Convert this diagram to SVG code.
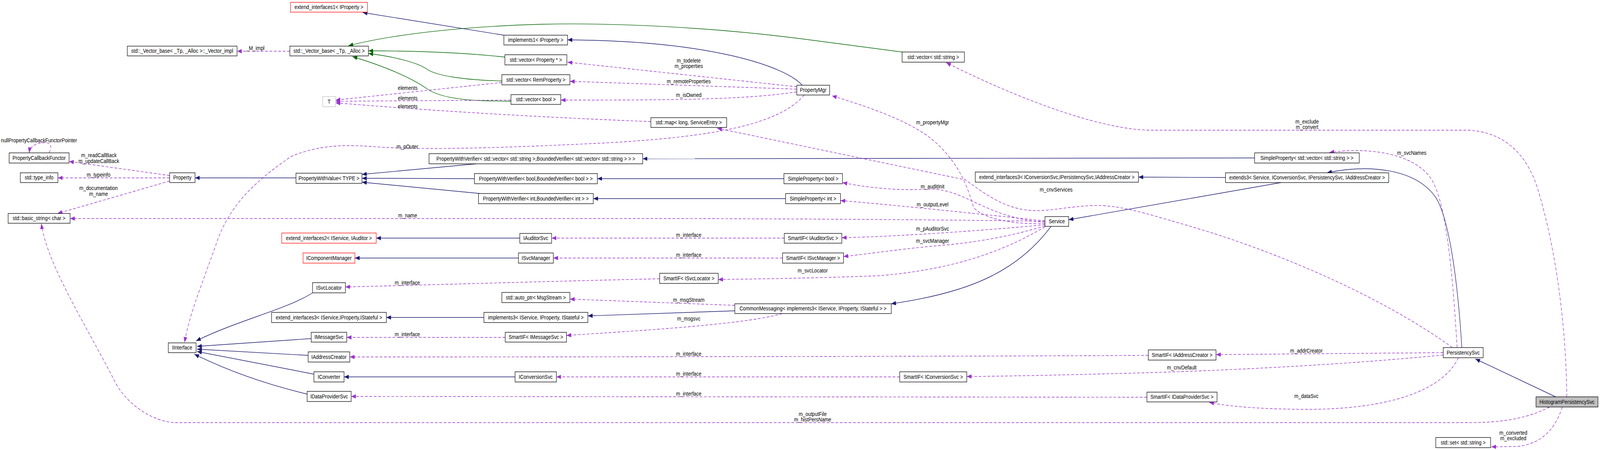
<svg xmlns="http://www.w3.org/2000/svg" width="4725" height="1151" viewBox="0 0 4725 1151" preserveAspectRatio="none">
<style>
svg{width:100vw;height:100vh;display:block}
text{font-family:"Liberation Sans",Arial,sans-serif;font-size:14.3px;fill:#000;text-anchor:middle}
.n rect{fill:#fff;stroke:#000;stroke-width:1.3}
.n.red rect{stroke:#ff0000}
.n.gray rect{stroke:#bfbfbf}
.n.cur rect{fill:#bfbfbf;stroke:#000}
.e{fill:none;stroke-width:1.4}
.inh{stroke:#191970;marker-end:url(#an)}
.tpl{stroke:#006400;marker-end:url(#ag)}
.use{stroke:#9a32cd;stroke-dasharray:8,5;marker-end:url(#ap)}
</style>
<defs>
<marker id="an" viewBox="0 0 14 11" refX="14" refY="5.5" markerWidth="14" markerHeight="11" markerUnits="userSpaceOnUse" orient="auto"><path d="M0,0 L14,5.5 L0,11 z" fill="#191970"/></marker>
<marker id="ag" viewBox="0 0 14 11" refX="14" refY="5.5" markerWidth="14" markerHeight="11" markerUnits="userSpaceOnUse" orient="auto"><path d="M0,0 L14,5.5 L0,11 z" fill="#006400"/></marker>
<marker id="ap" viewBox="0 0 14 11" refX="14" refY="5.5" markerWidth="14" markerHeight="11" markerUnits="userSpaceOnUse" orient="auto"><path d="M0,0 L14,5.5 L0,11 z" fill="#9a32cd"/></marker>
</defs>
<rect width="4725" height="1151" fill="#fff"/>
<g id="connectors">
<path class="e inh" d="M1488,90 L1071,32"/>
<path class="e tpl" d="M2664,133 L2400,103 C2100,68 1800,58 1600,62 C1350,68 1150,90 1029,117"/>
<path class="e tpl" d="M1491,146 C1350,133 1200,130 1088,130"/>
<path class="e tpl" d="M1482,207 C1380,205 1290,195 1261,177 C1230,158 1150,143 1088,137"/>
<path class="e tpl" d="M1509,259 L1440,258 C1350,256 1290,245 1261,227 C1200,190 1100,160 1041,145"/>
<path class="e use" d="M856,131 L700,131"/>
<path class="e inh" d="M2369,218 C2320,170 2100,104 1676,102"/>
<path class="e use" d="M2353,222 L1676,159"/>
<path class="e use" d="M2353,228 L1683,208"/>
<path class="e use" d="M2353,235 C2200,255 2000,256 1656,256"/>
<path class="e use" d="M1482,211 L991,256"/>
<path class="e use" d="M1509,256 L991,259"/>
<path class="e use" d="M1922,311 C1600,300 1300,285 991,263"/>
<path class="e use" d="M3086,572 C3000,575 2900,560 2875,530 C2855,470 2830,420 2770,370 C2700,310 2550,270 2457,245"/>
<path class="e use" d="M3086,566 C2800,562 2400,560 2000,559 L207,559"/>
<path class="e use" d="M3086,569 C2900,555 2850,480 2740,484 C2650,488 2560,480 2488,467"/>
<path class="e use" d="M3086,565 C2900,548 2650,525 2482,513"/>
<path class="e use" d="M3086,575 C2900,590 2650,605 2486,608"/>
<path class="e use" d="M3086,578 C3000,600 2900,620 2750,630 C2650,638 2560,650 2491,656"/>
<path class="e use" d="M3086,580 C2950,650 2800,690 2600,705 C2400,712 2250,713 2121,715"/>
<path class="e inh" d="M3783,467 L3156,562"/>
<path class="e inh" d="M3619,454 L3362,453"/>
<path class="e inh" d="M3104,579 C3000,700 2850,750 2632,777"/>
<path class="e inh" d="M2170,795 L1736,808"/>
<path class="e inh" d="M1429,812 L1141,812"/>
<path class="e use" d="M2170,781 L1683,765"/>
<path class="e use" d="M2310,802 C2200,830 1900,845 1673,858"/>
<path class="e use" d="M1492,863 L1024,863"/>
<path class="e inh" d="M919,866 L582,886"/>
<path class="e inh" d="M910,909 L582,893"/>
<path class="e inh" d="M927,957 L582,899"/>
<path class="e inh" d="M907,1008 C820,990 700,960 574,906"/>
<path class="e inh" d="M923,749 C850,790 700,820 579,872"/>
<path class="e use" d="M1948,713 C1600,720 1300,728 1020,734"/>
<path class="e use" d="M2316,609 L1629,609"/>
<path class="e inh" d="M1535,609 L1111,609"/>
<path class="e use" d="M2311,660 L1634,660"/>
<path class="e inh" d="M1531,660 L1048,660"/>
<path class="e inh" d="M3705,404 L1898,406"/>
<path class="e inh" d="M2315,457 L1764,457"/>
<path class="e inh" d="M2320,508 L1752,508"/>
<path class="e inh" d="M1407,419 L1069,446"/>
<path class="e inh" d="M1401,457 L1069,456"/>
<path class="e inh" d="M1418,495 L1069,466"/>
<path class="e inh" d="M874,455 L576,455"/>
<path class="e use" d="M501,449 L204,413"/>
<path class="e use" d="M501,455 L171,455"/>
<path class="e use" d="M501,463 L170,546"/>
<path class="e use" d="M145,391 C160,365 140,363 118,366 C100,369 88,378 86,391"/>
<path class="e use" d="M2375,243 C2300,320 2100,350 1800,365 C1500,378 1250,385 1100,375 C1000,368 930,375 860,400 C760,460 680,520 640,620 C600,720 560,800 545,876"/>
<path class="e use" d="M4576,1041 C4500,1075 4420,1081 4330,1081 L520,1081 C470,1081 390,1050 344,984 C260,840 140,680 122,572"/>
<path class="e use" d="M4627,1015 C4625,850 4600,650 4540,480 C4510,400 4450,340 4340,333 L3400,333 C3250,333 3000,250 2794,160"/>
<path class="e use" d="M4303,889 C4290,700 4270,500 4220,450 C4170,395 4050,375 3926,390"/>
<path class="e inh" d="M4317,889 C4305,720 4280,560 4240,505 C4180,430 4040,420 3919,442"/>
<path class="e use" d="M4289,889 C4100,770 3800,650 3500,575 C3380,545 3300,522 3220,526 C3140,530 3090,542 3040,538 C2960,532 2900,490 2851,460 L2118,328"/>
<path class="e use" d="M4262,902 L3591,907"/>
<path class="e use" d="M4262,908 C4000,930 3700,945 3400,953 C3200,958 3000,962 2855,963"/>
<path class="e use" d="M4307,915 C4260,1000 4100,1048 3850,1047 C3700,1046 3620,1038 3571,1029"/>
<path class="e inh" d="M4594,1015 L4357,918"/>
<path class="e use" d="M4614,1041 C4595,1090 4560,1135 4480,1142 L4404,1143"/>
<path class="e use" d="M3391,909 C3000,911 2000,913 1033,913"/>
<path class="e use" d="M2657,964 L1643,964"/>
<path class="e inh" d="M1521,964 L1016,964"/>
<path class="e use" d="M3387,1016 L1037,1014"/>
<g id="edge-labels">
<text x="754" y="128">_M_impl</text>
<text x="2034" y="160">m_todelete</text>
<text x="2034" y="174">m_properties</text>
<text x="2034" y="213">m_remoteProperties</text>
<text x="2034" y="248">m_isOwned</text>
<text x="1204" y="230">elements</text>
<text x="1204" y="256">elements</text>
<text x="1204" y="277">elements</text>
<text x="1203" y="380">m_pOuter</text>
<text x="115" y="364">nullPropertyCallbackFunctorPointer</text>
<text x="292" y="402">m_readCallBack</text>
<text x="292" y="417">m_updateCallBack</text>
<text x="291" y="452">m_typeinfo</text>
<text x="291" y="486">m_documentation</text>
<text x="291" y="501">m_name</text>
<text x="1204" y="556">m_name</text>
<text x="2754" y="318">m_propertyMgr</text>
<text x="2754" y="482">m_auditInit</text>
<text x="2754" y="528">m_outputLevel</text>
<text x="2754" y="590">m_pAuditorSvc</text>
<text x="2754" y="621">m_svcManager</text>
<text x="2400" y="697">m_svcLocator</text>
<text x="3119" y="490">m_cnvServices</text>
<text x="4169" y="396">m_svcNames</text>
<text x="3860" y="316">m_exclude</text>
<text x="3860" y="330">m_convert</text>
<text x="2034" y="606">m_interface</text>
<text x="2034" y="657">m_interface</text>
<text x="1203" y="728">m_interface</text>
<text x="2034" y="772">m_msgStream</text>
<text x="2034" y="820">m_msgsvc</text>
<text x="1203" y="860">m_interface</text>
<text x="2034" y="910">m_interface</text>
<text x="3858" y="902">m_addrCreator</text>
<text x="3490" y="945">m_cnvDefault</text>
<text x="2034" y="961">m_interface</text>
<text x="2034" y="1012">m_interface</text>
<text x="3858" y="1018">m_dataSvc</text>
<text x="2400" y="1064">m_outputFile</text>
<text x="2400" y="1078">m_histPersName</text>
<text x="4469" y="1112">m_converted</text>
<text x="4469" y="1126">m_excluded</text>
</g>
</g>
<g id="n1" class="n red"><rect x="858" y="6" width="227" height="25"/><text x="971.5" y="23.5">extend_interfaces1&lt; IProperty &gt;</text></g>
<g id="n2" class="n"><rect x="376" y="118" width="324" height="25"/><text x="538" y="135.5">std::_Vector_base&lt; _Tp, _Alloc &gt;::_Vector_impl</text></g>
<g id="n3" class="n"><rect x="856" y="118" width="232" height="25"/><text x="972" y="135.5">std::_Vector_base&lt; _Tp, _Alloc &gt;</text></g>
<g id="n4" class="n gray"><rect x="953" y="247" width="38" height="26"/><text x="972" y="265">T</text></g>
<g id="n5" class="n"><rect x="1488" y="90" width="188" height="25"/><text x="1582" y="107.5">implements1&lt; IProperty &gt;</text></g>
<g id="n6" class="n"><rect x="1491" y="140" width="183" height="26"/><text x="1582.5" y="158">std::vector&lt; Property * &gt;</text></g>
<g id="n7" class="n"><rect x="1482" y="191" width="201" height="26"/><text x="1582.5" y="209">std::vector&lt; RemProperty &gt;</text></g>
<g id="n8" class="n"><rect x="1509" y="242" width="147" height="25"/><text x="1582.5" y="259.5">std::vector&lt; bool &gt;</text></g>
<g id="n9" class="n"><rect x="1922" y="301" width="224" height="25"/><text x="2034" y="318.5">std::map&lt; long, ServiceEntry &gt;</text></g>
<g id="n10" class="n"><rect x="2353" y="218" width="97" height="25"/><text x="2401.5" y="235.5">PropertyMgr</text></g>
<g id="n11" class="n"><rect x="2664" y="133" width="184" height="26"/><text x="2756" y="151">std::vector&lt; std::string &gt;</text></g>
<g id="n12" class="n"><rect x="27" y="391" width="177" height="26"/><text x="115.5" y="409">PropertyCallbackFunctor</text></g>
<g id="n13" class="n"><rect x="60" y="442" width="111" height="25"/><text x="115.5" y="459.5">std::type_info</text></g>
<g id="n14" class="n"><rect x="501" y="442" width="75" height="25"/><text x="538.5" y="459.5">Property</text></g>
<g id="n15" class="n"><rect x="24" y="546" width="183" height="25"/><text x="115.5" y="563.5">std::basic_string&lt; char &gt;</text></g>
<g id="n16" class="n"><rect x="874" y="443" width="195" height="26"/><text x="971.5" y="461">PropertyWithValue&lt; TYPE &gt;</text></g>
<g id="n17" class="n"><rect x="1267" y="393" width="631" height="26"/><text x="1582.5" y="411">PropertyWithVerifier&lt; std::vector&lt; std::string &gt;,BoundedVerifier&lt; std::vector&lt; std::string &gt; &gt; &gt;</text></g>
<g id="n18" class="n"><rect x="1401" y="444" width="363" height="26"/><text x="1582.5" y="462">PropertyWithVerifier&lt; bool,BoundedVerifier&lt; bool &gt; &gt;</text></g>
<g id="n19" class="n"><rect x="1413" y="495" width="339" height="26"/><text x="1582.5" y="513">PropertyWithVerifier&lt; int,BoundedVerifier&lt; int &gt; &gt;</text></g>
<g id="n20" class="n"><rect x="2315" y="444" width="173" height="26"/><text x="2401.5" y="462">SimpleProperty&lt; bool &gt;</text></g>
<g id="n21" class="n"><rect x="2320" y="495" width="162" height="26"/><text x="2401" y="513">SimpleProperty&lt; int &gt;</text></g>
<g id="n22" class="n"><rect x="3705" y="391" width="309" height="26"/><text x="3859.5" y="409">SimpleProperty&lt; std::vector&lt; std::string &gt; &gt;</text></g>
<g id="n23" class="n"><rect x="2880" y="440" width="482" height="26"/><text x="3121" y="458">extend_interfaces3&lt; IConversionSvc,IPersistencySvc,IAddressCreator &gt;</text></g>
<g id="n24" class="n"><rect x="3619" y="442" width="482" height="25"/><text x="3860" y="459.5">extends3&lt; Service, IConversionSvc, IPersistencySvc, IAddressCreator &gt;</text></g>
<g id="n25" class="n"><rect x="3086" y="554" width="70" height="25"/><text x="3121" y="571.5">Service</text></g>
<g id="n26" class="n red"><rect x="832" y="596" width="279" height="26"/><text x="971.5" y="614">extend_interfaces2&lt; IService, IAuditor &gt;</text></g>
<g id="n27" class="n"><rect x="1535" y="597" width="94" height="25"/><text x="1582" y="614.5">IAuditorSvc</text></g>
<g id="n28" class="n"><rect x="2316" y="597" width="170" height="25"/><text x="2401" y="614.5">SmartIF&lt; IAuditorSvc &gt;</text></g>
<g id="n29" class="n red"><rect x="895" y="647" width="153" height="26"/><text x="971.5" y="665">IComponentManager</text></g>
<g id="n30" class="n"><rect x="1531" y="647" width="103" height="26"/><text x="1582.5" y="665">ISvcManager</text></g>
<g id="n31" class="n"><rect x="2311" y="647" width="180" height="26"/><text x="2401" y="665">SmartIF&lt; ISvcManager &gt;</text></g>
<g id="n32" class="n"><rect x="923" y="723" width="97" height="26"/><text x="971.5" y="741">ISvcLocator</text></g>
<g id="n33" class="n"><rect x="1948" y="699" width="173" height="26"/><text x="2034.5" y="717">SmartIF&lt; ISvcLocator &gt;</text></g>
<g id="n34" class="n"><rect x="1482" y="748" width="201" height="26"/><text x="1582.5" y="766">std::auto_ptr&lt; MsgStream &gt;</text></g>
<g id="n35" class="n"><rect x="2170" y="777" width="462" height="25"/><text x="2401" y="794.5">CommonMessaging&lt; implements3&lt; IService, IProperty, IStateful &gt; &gt;</text></g>
<g id="n36" class="n"><rect x="802" y="799" width="339" height="26"/><text x="971.5" y="817">extend_interfaces3&lt; IService,IProperty,IStateful &gt;</text></g>
<g id="n37" class="n"><rect x="1429" y="799" width="307" height="26"/><text x="1582.5" y="817">implements3&lt; IService, IProperty, IStateful &gt;</text></g>
<g id="n38" class="n"><rect x="497" y="877" width="82" height="25"/><text x="538" y="894.5">IInterface</text></g>
<g id="n39" class="n"><rect x="919" y="850" width="105" height="25"/><text x="971.5" y="867.5">IMessageSvc</text></g>
<g id="n40" class="n"><rect x="1492" y="850" width="181" height="25"/><text x="1582.5" y="867.5">SmartIF&lt; IMessageSvc &gt;</text></g>
<g id="n41" class="n"><rect x="910" y="900" width="123" height="26"/><text x="971.5" y="918">IAddressCreator</text></g>
<g id="n42" class="n"><rect x="3391" y="895" width="200" height="26"/><text x="3491" y="913">SmartIF&lt; IAddressCreator &gt;</text></g>
<g id="n43" class="n"><rect x="927" y="951" width="89" height="26"/><text x="971.5" y="969">IConverter</text></g>
<g id="n44" class="n"><rect x="1521" y="951" width="122" height="26"/><text x="1582" y="969">IConversionSvc</text></g>
<g id="n45" class="n"><rect x="2657" y="951" width="198" height="26"/><text x="2756" y="969">SmartIF&lt; IConversionSvc &gt;</text></g>
<g id="n46" class="n"><rect x="907" y="1001" width="130" height="26"/><text x="972" y="1019">IDataProviderSvc</text></g>
<g id="n47" class="n"><rect x="3387" y="1003" width="207" height="25"/><text x="3490.5" y="1020.5">SmartIF&lt; IDataProviderSvc &gt;</text></g>
<g id="n48" class="n"><rect x="4262" y="889" width="118" height="26"/><text x="4321" y="907">PersistencySvc</text></g>
<g id="n49" class="n cur"><rect x="4536" y="1015" width="183" height="26"/><text x="4627.5" y="1033">HistogramPersistencySvc</text></g>
<g id="n50" class="n"><rect x="4240" y="1119" width="162" height="26"/><text x="4321" y="1137">std::set&lt; std::string &gt;</text></g>
</svg>
